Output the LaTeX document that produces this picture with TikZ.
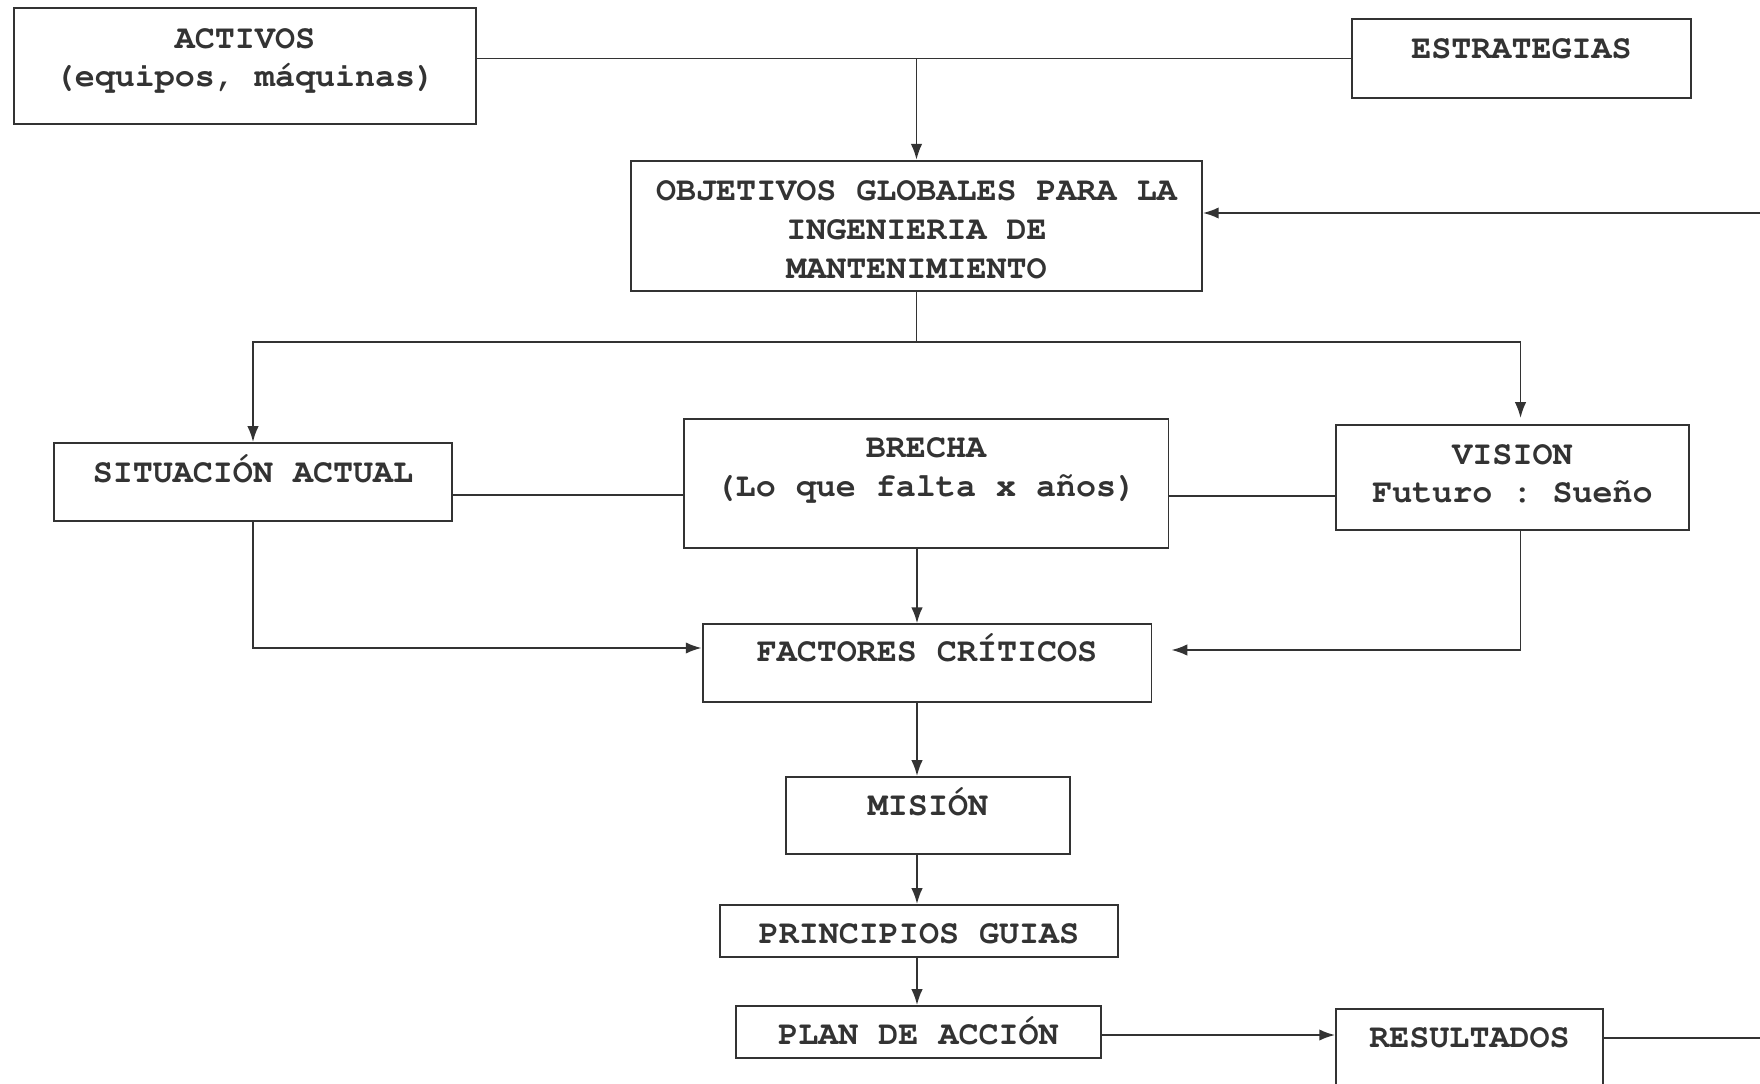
\documentclass[tikz,border=0pt]{standalone}
\usepackage[T1]{fontenc}
\usepackage{courier}
\usepackage{tikz}
\usetikzlibrary{arrows.meta,calc,positioning}
\tikzset{
    caja/.style={rectangle, draw, align=center, inner sep=0pt, text height=0.38cm},
    flecha/.style={-{Latex[length=9pt,width=6.5pt]}},
    linea/.style={line width=1.1pt, black!80}
}

\begin{document}
\begin{tikzpicture}[x=0.02cm,y=-0.02cm,linea,
font=\ttfamily\bfseries\fontsize{19}{22}\selectfont\frenchspacing]
\fill[white] (0,0) rectangle (1760,1084);
\useasboundingbox (0,0) rectangle (1760,1084);
% cajas
\node[caja, minimum width=9.26cm, minimum height=2.31cm, text height=1.154cm, text depth=0.32cm](activos) at (245,66){ACTIVOS\\(equipos, máquinas)};
\node[caja, minimum width=6.78cm, minimum height=1.58cm, text depth=0.36cm](estrategias) at (1521.5,58.5){ESTRATEGIAS};
\node[caja, minimum width=11.42cm, minimum height=2.61cm, text height=2.09cm, text depth=0cm](objetivos) at (916.5,226){OBJETIVOS GLOBALES PARA LA\\INGENIERIA DE\\MANTENIMIENTO};
\node[caja, minimum width=7.96cm, minimum height=1.56cm, text depth=0.38cm](situacion) at (253,482){SITUACIÓN ACTUAL};
\node[caja, minimum width=9.70cm, minimum height=2.58cm, text height=1.154cm, text depth=0.64cm](brecha) at (926,483.5){BRECHA\\(Lo que falta x años)};
\node[caja, minimum width=7.06cm, minimum height=2.10cm, text height=1.154cm, text depth=0.14cm](vision) at (1512.5,477.5){VISION\\Futuro : Sueño};
\node[caja, minimum width=8.98cm, minimum height=1.55cm, text depth=0.44cm](factores) at (927,663){FACTORES CRÍTICOS};
\node[caja, minimum width=5.68cm, minimum height=1.54cm, text depth=0.38cm](mision) at (928,815.5){MISIÓN};
\node[caja, minimum width=7.97cm, minimum height=1.04cm, text height=0.5cm, text depth=0cm](principios) at (919,931){PRINCIPIOS GUIAS};
\node[caja, minimum width=7.30cm, minimum height=1.04cm, text height=0.5cm, text depth=0cm](plan) at (918.5,1032){PLAN DE ACCIÓN};
\node[caja, minimum width=5.34cm, minimum height=2.00cm, text depth=0.84cm](resultados) at (1469.5,1059){RESULTADOS};
\coordinate (eje) at (917,0);
\coordinate (retorno) at (1760,213);
\coordinate (salida) at (1760,1038);
% conexiones
\draw (activos.east |- estrategias.west) -- (estrategias.west);
\draw[flecha] (objetivos.north |- estrategias.west) -- (objetivos.north);
\draw[flecha] (retorno) -- (retorno -| objetivos.east);
\draw (objetivos.south) -- ++(0,50) coordinate (reparto);
\draw[flecha] (reparto) -| (situacion.north);
\draw[flecha] (reparto) -| ($(vision.north)+(8,-6)$);
\draw ($(situacion.east)+(0,13)$) coordinate (s1) -- (s1 -| brecha.west);
\draw ($(brecha.east)+(0,12.5)$) coordinate (b1) -- (b1 -| vision.west);
\draw[flecha] (brecha.south -| eje) -- (factores.north -| eje);
\draw[flecha] (situacion.south) |- ($(factores.west)+(0,-15)$);
\draw[flecha] ($(vision.south)+(8,0)$) |- ($(factores.east)+(19,-13)$);
\draw[flecha] (factores.south -| eje) -- (mision.north -| eje);
\draw[flecha] (mision.south -| eje) -- (principios.north -| eje);
\draw[flecha] (principios.south -| eje) -- (plan.north -| eje);
\draw[flecha] ($(plan.east)+(0,3)$) coordinate (p1) -- (p1 -| resultados.west);
\draw (resultados.east |- salida) -- (salida);
\end{tikzpicture}
\end{document}
